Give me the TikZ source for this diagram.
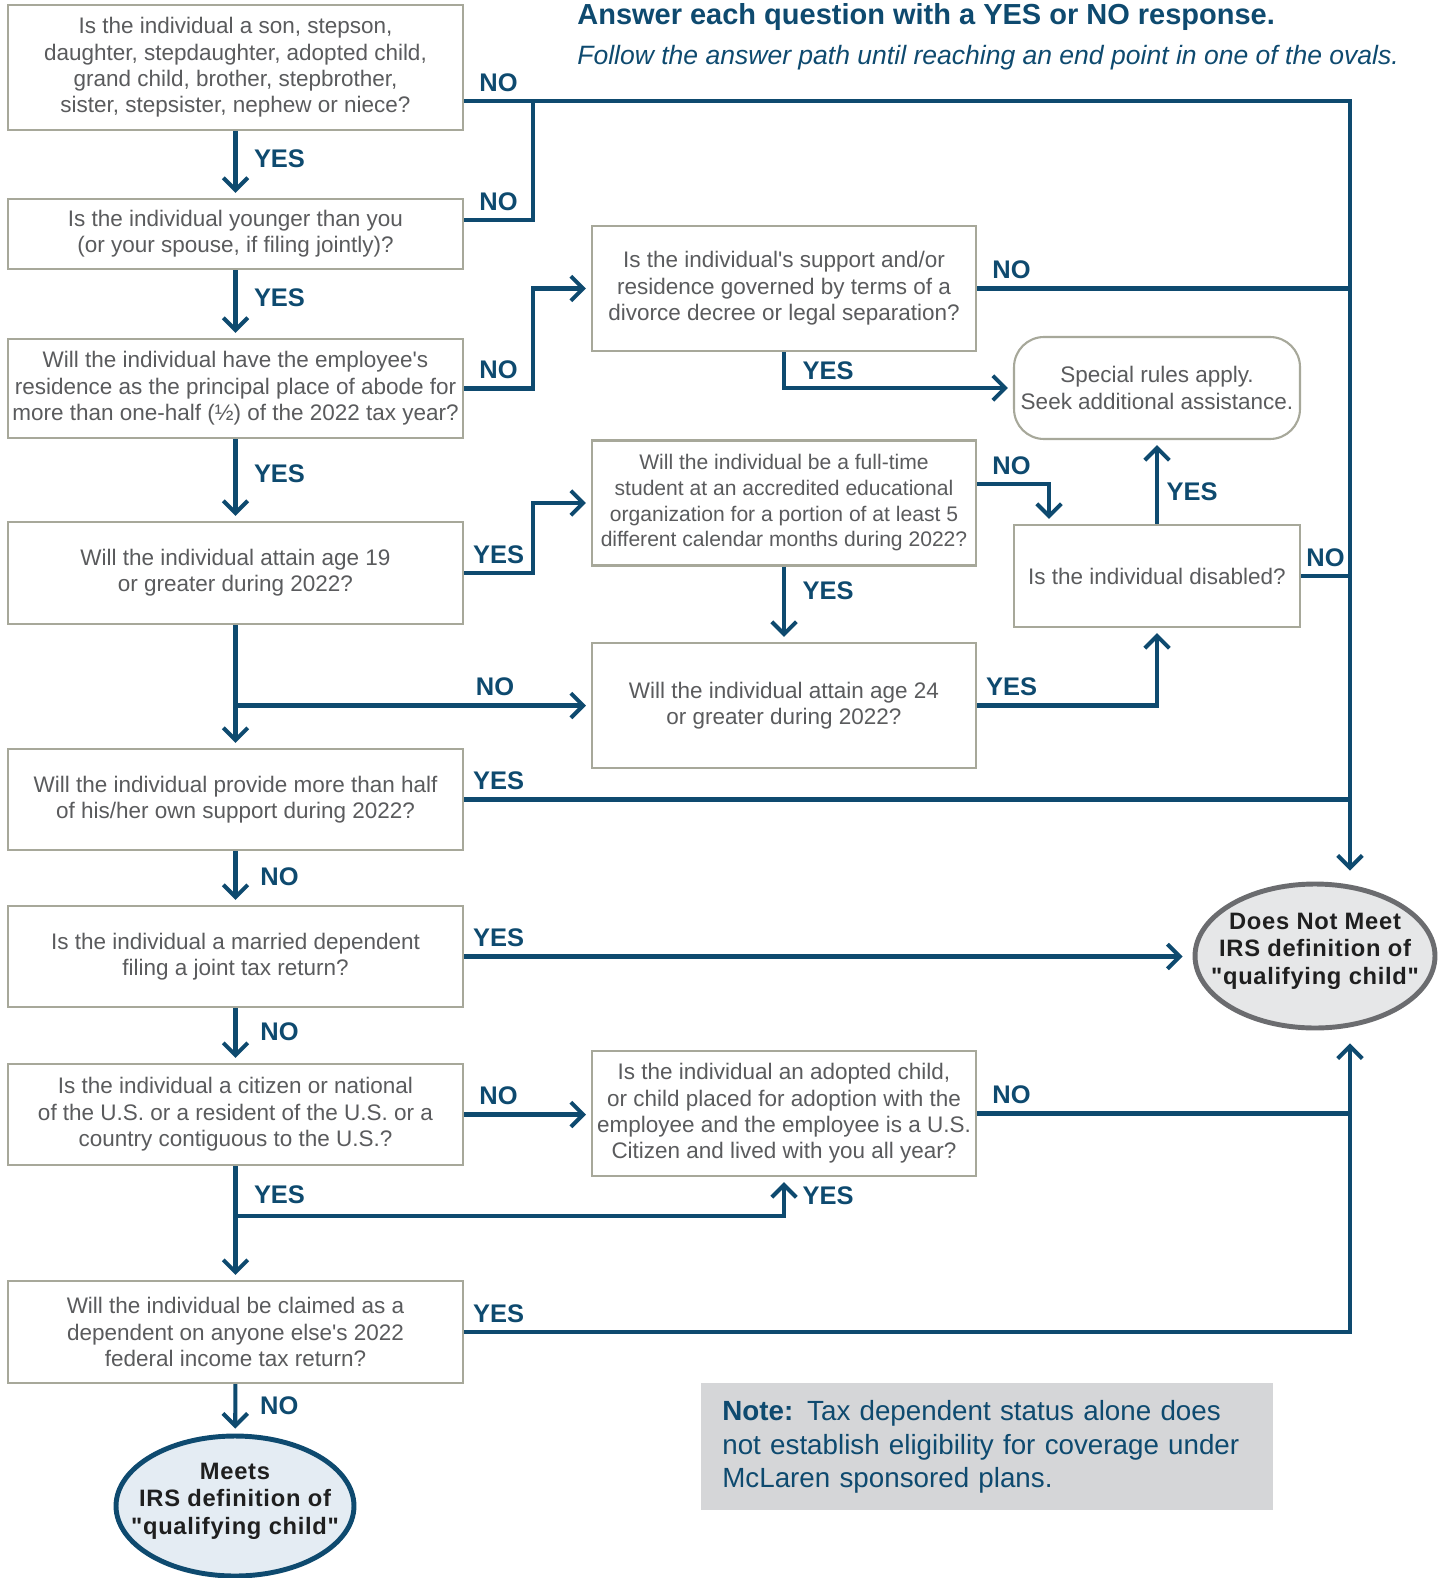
\documentclass[tikz,border=0pt]{standalone}
\usepackage{fontspec}
\setmainfont{Liberation Sans}[Ligatures=TeXOff]
\newfontfamily\ovalfont[LetterSpace=3]{Liberation Sans}
\usetikzlibrary{arrows.meta,shapes.geometric,calc,positioning}
\definecolor{flowblue}{HTML}{0E4A6F}
\definecolor{boxgray}{HTML}{A7A89A}
\definecolor{txtgray}{HTML}{5A5B5D}
\definecolor{ovalgray}{HTML}{6B6C6F}
\definecolor{ovalfill}{HTML}{E6E7E8}
\definecolor{meetfill}{HTML}{E4ECF3}
\definecolor{notefill}{HTML}{D5D6D8}
\tikzset{
  qbox/.style={draw=boxgray, line width=1.2pt, fill=white, align=center, text=txtgray,
    font=\fontsize{12.8}{15}\selectfont, inner xsep=0pt, inner ysep=2pt},
  lbox/.style={qbox, minimum width=9.1cm},
  mbox/.style={qbox, minimum width=7.68cm, minimum height=2.5cm},
  rbox/.style={qbox, minimum width=5.72cm, minimum height=2.04cm},
  endoval/.style={ellipse, line width=2.8pt, inner sep=0pt},
  ovaltxt/.style={align=center, yshift=.1cm, text=black!88, font=\ovalfont\bfseries\fontsize{13.5}{15.6}\selectfont},
  flow/.style={draw=flowblue, line width=2.3pt, -{Straight Barb[length=7pt,width=14pt]}, shorten >=.1cm},
  plain/.style={draw=flowblue, line width=2.3pt},
  lbl/.style={text=flowblue, font=\bfseries\fontsize{14.5}{17}\selectfont, inner sep=0pt},
  hlbl/.style={lbl, pos=0, anchor=base, xshift=.69cm, yshift=.2cm},
  vlbl/.style={lbl, anchor=center, xshift=.88cm},
  notebox/.style={fill=notefill, minimum width=11.44cm, minimum height=2.54cm, text width=10.6cm,
    inner xsep=.42cm, align=left, text=flowblue, font=\fontsize{15.8}{19}\selectfont},
}
\begin{document}
\begin{tikzpicture}[x=0.02cm, y=-0.02cm]
\useasboundingbox (0,0) rectangle (1441,1578);

% heading
\node[anchor=base west, inner sep=0, text=flowblue, font=\bfseries\fontsize{16.5}{19}\selectfont] (title) at (577,25) {Answer each question with a YES or NO response.};
\node[anchor=base west, inner sep=0, text=flowblue, font=\itshape\fontsize{15.1}{17}\selectfont] (subtitle) at (577,65) {Follow the answer path until reaching an end point in one of the ovals.};

% left column
\node[lbox, minimum height=2.5cm] (q1) at (235.5,67.5) {Is the individual a son, stepson,\\daughter, stepdaughter, adopted child,\\grand child, brother, stepbrother,\\sister, stepsister, nephew or niece?};
\node[lbox, minimum height=1.4cm] (q2) at (235.5,234) {Is the individual younger than you\\(or your spouse, if filing jointly)?};
\node[lbox, minimum height=1.98cm] (q3) at (235.5,388.5) {Will the individual have the employee's\\residence as the principal place of abode for\\more than one-half (½) of the 2022 tax year?};
\node[lbox, minimum height=2.04cm] (q4) at (235.5,573) {Will the individual attain age 19\\or greater during 2022?};
\node[lbox, minimum height=2.02cm] (q5) at (235.5,799.5) {Will the individual provide more than half\\of his/her own support during 2022?};
\node[lbox, minimum height=2.02cm] (q6) at (235.5,956.5) {Is the individual a married dependent\\filing a joint tax return?};
\node[lbox, minimum height=2.02cm] (q7) at (235.5,1114.5) {Is the individual a citizen or national\\of the U.S. or a resident of the U.S. or a\\country contiguous to the U.S.?};
\node[lbox, minimum height=2.04cm] (q8) at (235.5,1332) {Will the individual be claimed as a\\dependent on anyone else's 2022\\federal income tax return?};
\node[endoval, draw=flowblue, fill=meetfill, minimum width=4.76cm, minimum height=2.8cm,
  label={[ovaltxt]center:Meets\\IRS definition of\\"qualifying child"}] (meets) at (235,1506) {};

% middle column
\node[mbox] (qa) at (784,288.5) {Is the individual's support and/or\\residence governed by terms of a\\divorce decree or legal separation?};
\node[mbox, font=\fontsize{12}{14.6}\selectfont] (qb) at (784,503) {Will the individual be a full-time\\student at an accredited educational\\organization for a portion of at least 5\\different calendar months during 2022?};
\node[mbox] (qc) at (784,705.5) {Will the individual attain age 24\\or greater during 2022?};
\node[mbox] (qd) at (784,1113.5) {Is the individual an adopted child,\\or child placed for adoption with the\\employee and the employee is a U.S.\\Citizen and lived with you all year?};

% right column
\node[rbox, rounded corners=.6cm] (special) at (1157,388) {Special rules apply.\\Seek additional assistance.};
\node[rbox] (disabled) at (1157,576) {Is the individual disabled?};
\node[endoval, draw=ovalgray, fill=ovalfill, minimum width=4.8cm, minimum height=2.88cm,
  label={[ovaltxt]center:Does Not Meet\\IRS definition of\\"qualifying child"}] (notmeet) at (1315,956) {};

% note
\node[notebox, anchor=north west] (note) at (701,1383) {\textbf{Note:} Tax dependent status alone does\\not establish eligibility for coverage under\\McLaren sponsored plans.};

\coordinate (entry) at (235.5,-30);
\coordinate (top) at (1350,101);
\coordinate (jn) at (533,101);
\coordinate (jb) at (1049,484);
\coordinate (jy) at (235.5,1216);

% connectors
\draw[flow] (entry) -- (q1);
\draw[flow, shorten >=.22cm] (q1.east |- top) -- node[hlbl]{NO} (top) -- (top |- notmeet.north);
\draw[plain] ([yshift=.28cm]q2.east) -| node[hlbl]{NO} (jn);
\draw[flow] (q3.east) -- node[hlbl]{NO} (q3.east -| jn) |- (qa.west);
\draw[flow] (q4.east) -- node[hlbl]{YES} (q4.east -| jn) |- (qb.west);
\draw[plain] (qa.east) -- node[hlbl]{NO} (qa.east -| top);
\draw[flow] (qa.south) |- node[vlbl, pos=.265]{YES} (special.west);
\draw[flow] ([yshift=.38cm]qb.east) -| node[hlbl]{NO} (jb |- disabled.north);
\draw[flow] (qb) -- node[vlbl, pos=.32]{YES} (qc);
\draw[flow] (qc.east) -| node[hlbl]{YES} (disabled.south);
\draw[flow] (disabled) -- node[vlbl, pos=.39, xshift=-.18cm]{YES} (special);
\draw[plain] (disabled.east) -- node[lbl, anchor=base, yshift=.2cm]{NO} (disabled.east -| top);

\draw[flow] (q1) -- node[vlbl, pos=.41]{YES} (q2);
\draw[flow] (q2) -- node[vlbl, pos=.41]{YES} (q3);
\draw[flow] (q3) -- node[vlbl, pos=.42]{YES} (q4);
\draw[flow] (q4) -- (q5);
\draw[flow] (q4.south |- qc.west) -- node[lbl, pos=.73, anchor=base, yshift=.2cm]{NO} (qc.west);
\draw[plain] (q5.east) -- node[hlbl]{YES} (q5.east -| top);
\draw[flow] (q5) -- node[vlbl, pos=.47]{NO} (q6);
\draw[flow, shorten >=.2cm] (q6.east) -- node[hlbl]{YES} (q6.east -| notmeet.west);
\draw[flow] (q6) -- node[vlbl, pos=.43]{NO} (q7);
\draw[flow] (q7.east) -- node[hlbl]{NO} (q7.east -| qd.west);
\draw[plain] (qd.east) -- node[hlbl]{NO} (qd.east -| top);
\draw[flow] (q7) -- node[vlbl, pos=.25]{YES} (q8);
\draw[flow] (jy) -| node[vlbl, pos=.76]{YES} (qd.south);
\draw[flow, shorten >=.26cm] (q8.east) -- node[hlbl]{YES} (q8.east -| top) -- (top |- notmeet.south);
\draw[flow] (q8) -- node[vlbl, pos=.43]{NO} (meets);
\end{tikzpicture}
\end{document}
